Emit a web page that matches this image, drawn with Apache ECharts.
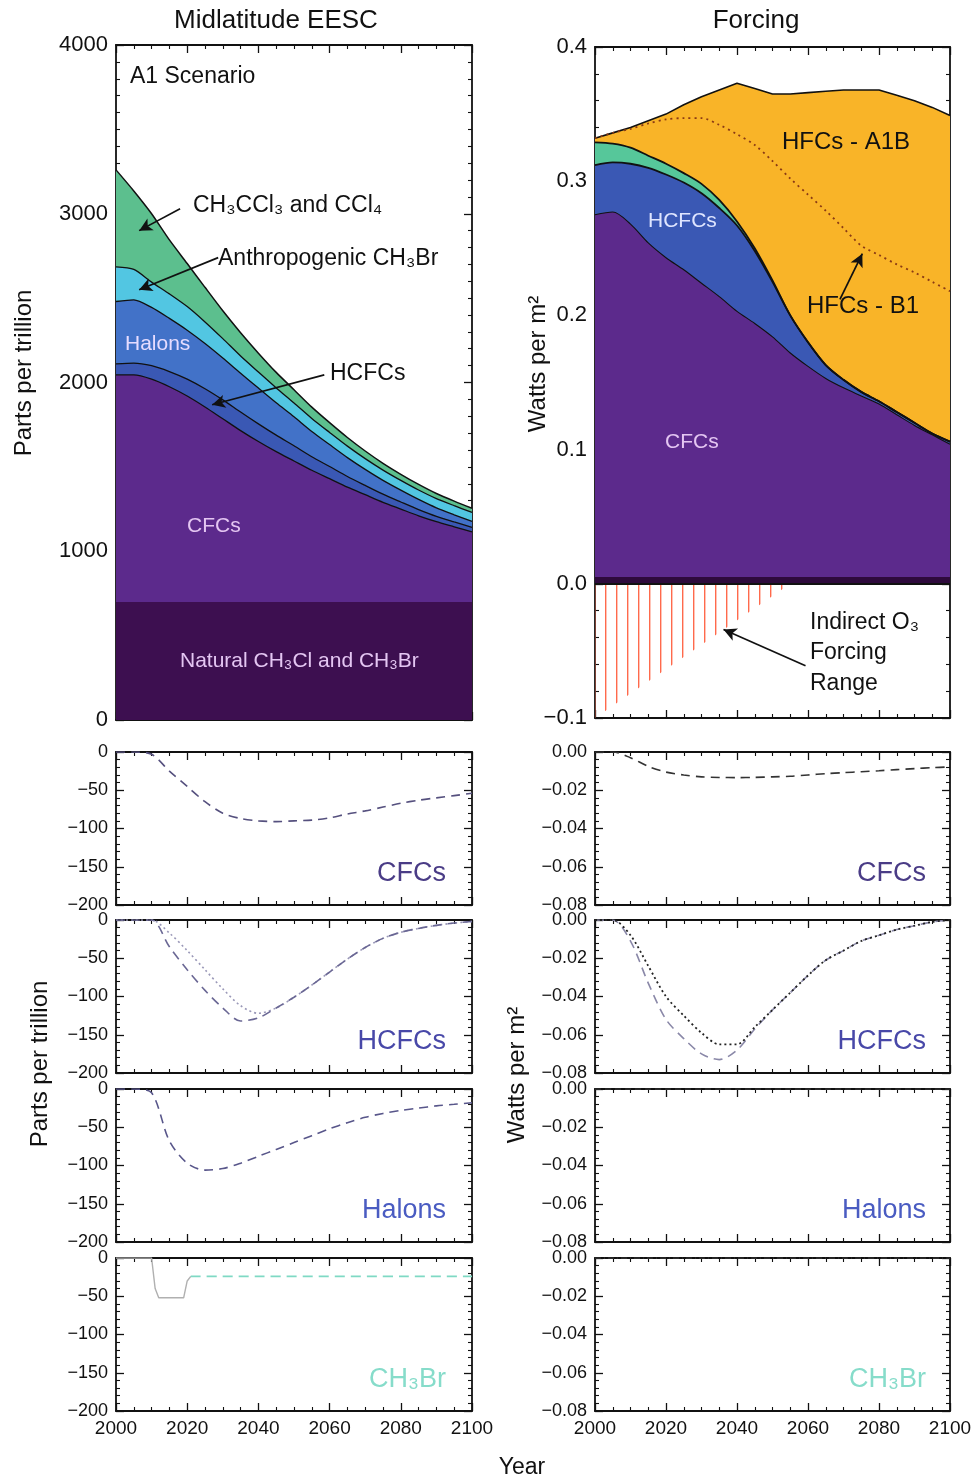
<!DOCTYPE html>
<html>
<head>
<meta charset="utf-8">
<title>Midlatitude EESC and Forcing</title>
<script src="https://cdn.jsdelivr.net/npm/echarts@6/dist/echarts.min.js"></script>
<style>
html, body { margin: 0; padding: 0; background: #fff; }
#chart { width: 978px; height: 1482px; }
</style>
</head>
<body>
<div id="chart"></div>
<script>
// shared time axis (5-year steps)
const years = [2000, 2005, 2010, 2015, 2020, 2025, 2030, 2035, 2040, 2045, 2050,
               2055, 2060, 2065, 2070, 2075, 2080, 2085, 2090, 2095, 2100];

// EESC contributions, ppt (stacked from the bottom)
const eescNatural = [700, 700, 700, 700, 700, 700, 700, 700, 700, 700, 700, 700, 700, 700, 700, 700, 700, 700, 700, 700, 700];
const eescCFC     = [1345, 1345, 1320, 1275, 1220, 1155, 1085, 1015, 950, 890, 835, 780, 730, 680, 635, 590, 550, 510, 475, 445, 415];
const eescHCFC    = [65, 70, 80, 90, 100, 108, 112, 110, 105, 98, 90, 80, 72, 63, 55, 48, 42, 37, 32, 29, 27];
const eescHalons  = [370, 375, 345, 315, 290, 268, 248, 230, 212, 192, 172, 150, 130, 112, 95, 82, 70, 60, 50, 42, 35];
const eescCH3Br   = [205, 180, 150, 145, 140, 128, 115, 102, 95, 88, 82, 77, 72, 68, 64, 61, 58, 56, 55, 54, 53];
const eescCH3CCl3 = [575, 465, 405, 320, 255, 205, 165, 138, 112, 92, 78, 67, 58, 51, 45, 40, 36, 33, 30, 27, 25];

// Forcing contributions, W/m2 (stacked), plus totals with HFCs
const forcNatural = [0.005, 0.005, 0.005, 0.005, 0.005, 0.005, 0.005, 0.005, 0.005, 0.005, 0.005, 0.005, 0.005, 0.005, 0.005, 0.005, 0.005, 0.005, 0.005, 0.005, 0.005];
const forcCFC   = [0.270, 0.272, 0.263, 0.249, 0.238, 0.229, 0.219, 0.209, 0.198, 0.189, 0.179, 0.167, 0.157, 0.148, 0.141, 0.135, 0.129, 0.121, 0.113, 0.106, 0.099];
const forcHCFC  = [0.037, 0.037, 0.045, 0.056, 0.062, 0.065, 0.067, 0.066, 0.064, 0.054, 0.041, 0.028, 0.018, 0.010, 0.006, 0.003, 0.002, 0.002, 0.002, 0.001, 0.002];
const forcOther = [0.017, 0.014, 0.012, 0.009, 0.008, 0.007, 0.007, 0.006, 0.003, 0.002, 0.001, 0, 0, 0, 0, 0, 0, 0, 0, 0, 0];
const forcA1B   = [0.332, 0.336, 0.340, 0.345, 0.350, 0.357, 0.363, 0.368, 0.373, 0.369, 0.365, 0.365, 0.366, 0.367, 0.368, 0.368, 0.368, 0.364, 0.360, 0.355, 0.349];
const forcB1    = [0.332, 0.336, 0.339, 0.343, 0.346, 0.347, 0.347, 0.342, 0.335, 0.327, 0.315, 0.302, 0.290, 0.278, 0.265, 0.252, 0.245, 0.238, 0.232, 0.225, 0.218];

// indirect ozone forcing range (lower edge)
const o3Years = [2000, 2055];
const o3Lower = [-0.1, 0];

// EESC differences, ppt
const dEescCFC     = [0, 0, -3, -25, -45, -65, -80, -87, -90, -91, -90, -89, -86, -81, -77, -72, -67, -63, -60, -57, -54];
const dEescHCFCa   = [0, 0, 0, -35, -65, -92, -115, -132, -128, -115, -101, -85, -68, -51, -36, -24, -16, -11, -7, -4, -2];
const dEescHCFCb   = [0, 0, 0, -17, -40, -65, -90, -112, -122, -115, -101, -85, -68, -51, -36, -24, -16, -11, -7, -4, -2];
const dEescHalons  = [0, 0, -5, -68, -97, -106, -104, -97, -88, -79, -70, -61, -52, -44, -37, -32, -28, -25, -22, -20, -18];
const ch3brStepYears = [2000, 2010, 2011, 2012, 2019, 2020, 2021];
const ch3brStepVals  = [0, 0, -40, -52, -52, -30, -24];
const ch3brYears = [2021, 2100];
const ch3brVals  = [-24, -24];

// Forcing differences, W/m2
const dForcCFC    = [0, 0, -0.003, -0.0075, -0.0105, -0.012, -0.013, -0.0133, -0.0134, -0.0133, -0.013, -0.0127, -0.012, -0.0113, -0.0108, -0.0103, -0.0098, -0.0092, -0.0087, -0.0082, -0.0078];
const dForcHCFCa  = [0, 0, -0.011, -0.033, -0.052, -0.062, -0.070, -0.073, -0.068, -0.057, -0.047, -0.038, -0.029, -0.021, -0.016, -0.011, -0.008, -0.005, -0.003, -0.001, 0];
const dForcHCFCb  = [0, 0, -0.008, -0.024, -0.040, -0.050, -0.059, -0.065, -0.065, -0.056, -0.047, -0.038, -0.029, -0.021, -0.016, -0.011, -0.008, -0.005, -0.003, -0.001, 0];
const dForcHalons = [0, 0, 0, 0, 0, 0, 0, 0, 0, 0, 0, 0, 0, 0, 0, 0, 0, 0, 0, 0, 0];
const dForcCH3Br  = [0, 0, 0, 0, 0, 0, 0, 0, 0, 0, 0, 0, 0, 0, 0, 0, 0, 0, 0, 0, 0];

const FONT = '"Liberation Sans", Arial, Helvetica, sans-serif';
const grids = [], xAxes = [], yAxes = [], series = [];

const minus = s => s.replace('-', '\u2212');

function panel(box, y, showX) {
  const i = grids.length;
  grids.push({ left: box[0], top: box[1], width: box[2], height: box[3] });
  const line = { show: true, onZero: false, lineStyle: { color: '#111', width: 1.8 } };
  const tick = { show: true, inside: true, length: 8, lineStyle: { color: '#111', width: 1.3 } };
  const xMinor = { show: true, splitNumber: 4, length: 4, lineStyle: { color: '#111', width: 1.1 } };
  const yMinor = { show: true, splitNumber: y.minor, length: 4, lineStyle: { color: '#111', width: 1.1 } };
  const common = { type: 'value', gridIndex: i, axisLine: line, axisTick: tick, splitLine: { show: false } };
  xAxes.push(Object.assign({}, common, {
    position: 'bottom', min: 2000, max: 2100, interval: 20, minorTick: xMinor,
    axisLabel: { show: showX, color: '#111', fontSize: 19, fontFamily: FONT, margin: 8,
                 showMinLabel: true, showMaxLabel: true, formatter: v => String(v) }
  }));
  xAxes.push(Object.assign({}, common, {
    position: 'top', min: 2000, max: 2100, interval: 20, minorTick: xMinor, axisLabel: { show: false }
  }));
  yAxes.push(Object.assign({}, common, {
    position: 'left', min: y.min, max: y.max, interval: y.step, minorTick: yMinor,
    axisLabel: { color: '#111', fontSize: y.font, fontFamily: FONT, margin: 8, formatter: y.fmt,
                 showMinLabel: true, showMaxLabel: true }
  }));
  yAxes.push(Object.assign({}, common, {
    position: 'right', min: y.min, max: y.max, interval: y.step, minorTick: yMinor, axisLabel: { show: false }
  }));
  return i;
}

const pts = (xs, vs) => xs.map((x, k) => [x, vs[k]]);

// running totals of the contributions: top edge of each layer
function cumulate(parts) {
  let run = years.map(() => 0);
  return parts.map(p => (run = run.map((v, k) => v + p[k])));
}

// each layer fills from zero up to its top edge; drawn back (highest) to front (lowest)
function layer(g, tops, color, lw, smooth) {
  return {
    type: 'line', xAxisIndex: 2 * g, yAxisIndex: 2 * g, data: pts(years, tops),
    symbol: 'none', smooth: smooth, silent: true,
    lineStyle: { color: '#111', width: lw }, areaStyle: { color: color, opacity: 1, origin: 'auto' }
  };
}

function curve(g, xs, data, color, dash, lw) {
  return {
    type: 'line', xAxisIndex: 2 * g, yAxisIndex: 2 * g, data: pts(xs, data),
    symbol: 'none', smooth: 0.3, silent: true, z: 3,
    lineStyle: { color: color, width: lw || 1.6, type: dash }
  };
}

function arrows(list) {
  return {
    silent: true, symbol: ['none', 'arrow'], symbolSize: [10, 13], animation: false,
    label: { show: false }, lineStyle: { color: '#111', width: 1.7, type: 'solid' },
    data: list.map(a => [{ coord: [a[0], a[1]] }, { coord: [a[2], a[3]] }])
  };
}

// ---------- top panels ----------
const gL = panel([116, 45, 356, 675], { min: 0, max: 4000, step: 1000, minor: 10, font: 22, fmt: v => String(v) }, false);
const gR = panel([595, 47, 355, 671], { min: -0.1, max: 0.4, step: 0.1, minor: 5, font: 22,
  fmt: v => minus(v.toFixed(1)) }, false);

const eTops = cumulate([eescNatural, eescCFC, eescHCFC, eescHalons, eescCH3Br, eescCH3CCl3]);
const topL = layer(gL, eTops[5], '#5cbf8e', 1.5, 0.25);
topL.markLine = arrows([
  [2018, 3030, 2006.5, 2900],
  [2028.7, 2740, 2006.5, 2550],
  [2058.5, 2045, 2027, 1868]
]);
series.push(topL);
series.push(layer(gL, eTops[4], '#52c6e2', 1.3, 0.25));
series.push(layer(gL, eTops[3], '#4272c8', 1.3, 0.25));
series.push(layer(gL, eTops[2], '#3a58b4', 1.3, 0.25));
series.push(layer(gL, eTops[1], '#5c2a8c', 1.3, 0.25));
series.push(layer(gL, eTops[0], '#3d0f50', 0, 0));

// HFC A1B total at the back, other forcings in front of it
const fTops = cumulate([forcNatural, forcCFC, forcHCFC, forcOther]);
series.push(layer(gR, forcA1B, '#f9b428', 1.6, 0));
series.push(layer(gR, fTops[3], '#56c79a', 1.8, 0.3));
series.push(layer(gR, fTops[2], '#3a58b4', 1.8, 0.3));
series.push(layer(gR, fTops[1], '#5c2a8c', 1.1, 0.3));
const natR = layer(gR, fTops[0], '#2e0a3c', 0, 0);
natR.markLine = {
  silent: true, symbol: 'none', label: { show: false }, animation: false,
  lineStyle: { color: '#111', width: 2, type: 'solid' }, data: [{ yAxis: 0 }]
};
series.push(natR);

const hatch = document.createElement('canvas');
hatch.width = 11; hatch.height = 4;
const hctx = hatch.getContext('2d');
hctx.fillStyle = '#ff6a4c';
hctx.fillRect(0, 0, 1.4, 4);
series.push({
  type: 'line', xAxisIndex: 2 * gR, yAxisIndex: 2 * gR, data: pts(o3Years, o3Lower),
  symbol: 'none', silent: true, lineStyle: { width: 0 },
  areaStyle: { color: { image: hatch, repeat: 'repeat' }, opacity: 1, origin: 'auto' }
});
const b1 = curve(gR, years, forcB1, '#8a3a14', [2, 4], 1.8);
b1.markLine = arrows([
  [2069, 0.212, 2075.3, 0.246],
  [2059.3, -0.061, 2036.2, -0.034]
]);
series.push(b1);

// ---------- difference panels ----------
const rowsTop = [752, 920, 1089, 1258];
const yL = { min: -200, max: 0, step: 50, minor: 5, font: 18, fmt: v => minus(String(v)) };
const yR = { min: -0.08, max: 0, step: 0.02, minor: 5, font: 18, fmt: v => minus(v.toFixed(2)) };
const sl = rowsTop.map((t, k) => panel([116, t, 356, 153], yL, k === 3));
const sr = rowsTop.map((t, k) => panel([595, t, 355, 153], yR, k === 3));

series.push(curve(sl[0], years, dEescCFC, '#55507e', [9, 6]));
series.push(curve(sl[1], years, dEescHCFCb, '#9a98b8', [2, 3]));
series.push(curve(sl[1], years, dEescHCFCa, '#6a6794', [9, 6]));
series.push(curve(sl[2], years, dEescHalons, '#58568a', [9, 6]));
const step = curve(sl[3], ch3brStepYears, ch3brStepVals, '#b0b0b0', 'solid', 1.4);
step.smooth = false;
series.push(step);
series.push(curve(sl[3], ch3brYears, ch3brVals, '#7fd9c4', [10, 6], 1.8));

series.push(curve(sr[0], years, dForcCFC, '#333', [9, 6]));
series.push(curve(sr[1], years, dForcHCFCa, '#8a88a8', [9, 6]));
series.push(curve(sr[1], years, dForcHCFCb, '#222', [2, 3], 1.8));
series.push(curve(sr[2], years, dForcHalons, '#333', [6, 4]));
series.push(curve(sr[3], years, dForcCH3Br, '#333', [6, 3, 1, 3]));

// ---------- text ----------
function txt(x, y, text, size, color, align, rot) {
  return {
    type: 'text', x: x, y: y, rotation: rot || 0, silent: true, z: 10,
    style: { text: text, fontSize: size, fontFamily: FONT, fill: color,
             textAlign: align || 'left', align: align || 'left',
             textVerticalAlign: 'middle', verticalAlign: 'middle' }
  };
}
const graphics = [
  txt(276, 21, 'Midlatitude EESC', 26, '#111', 'center'),
  txt(756, 21, 'Forcing', 26, '#111', 'center'),
  txt(130, 77, 'A1 Scenario', 23, '#111'),
  txt(193, 206, 'CH\u2083CCl\u2083 and CCl\u2084', 23, '#111'),
  txt(218, 259, 'Anthropogenic CH\u2083Br', 23, '#111'),
  txt(330, 374, 'HCFCs', 23, '#111'),
  txt(125, 344, 'Halons', 21, '#e6dcff'),
  txt(187, 526, 'CFCs', 21, '#e4c6f2'),
  txt(180, 661, 'Natural CH\u2083Cl and CH\u2083Br', 21, '#e4c6f2'),
  txt(782, 142, 'HFCs - A1B', 24, '#111'),
  txt(648, 221, 'HCFCs', 21, '#dfe5ff'),
  txt(807, 306, 'HFCs - B1', 24, '#111'),
  txt(665, 442, 'CFCs', 21, '#e4c6f2'),
  txt(810, 623, 'Indirect O\u2083', 23, '#111'),
  txt(810, 653, 'Forcing', 23, '#111'),
  txt(810, 684, 'Range', 23, '#111'),
  txt(24, 373, 'Parts per trillion', 24, '#111', 'center', Math.PI / 2),
  txt(40, 1064, 'Parts per trillion', 24, '#111', 'center', Math.PI / 2),
  txt(538, 364, 'Watts per m\u00b2', 24, '#111', 'center', Math.PI / 2),
  txt(517, 1075, 'Watts per m\u00b2', 24, '#111', 'center', Math.PI / 2),
  txt(522, 1468, 'Year', 23, '#111', 'center')
];
const panelLabels = ['CFCs', 'HCFCs', 'Halons', 'CH\u2083Br'];
const panelColors = ['#4a3c86', '#4848a8', '#4a5cc2', '#86dcca'];
rowsTop.forEach((t, k) => {
  graphics.push(txt(446, t + 122, panelLabels[k], 27, panelColors[k], 'right'));
  graphics.push(txt(926, t + 122, panelLabels[k], 27, panelColors[k], 'right'));
});

const chart = echarts.init(document.getElementById('chart'), null, { renderer: 'canvas' });
chart.setOption({
  animation: false,
  backgroundColor: '#fff',
  grid: grids,
  xAxis: xAxes,
  yAxis: yAxes,
  series: series,
  graphic: { elements: graphics }
});
</script>
</body>
</html>
